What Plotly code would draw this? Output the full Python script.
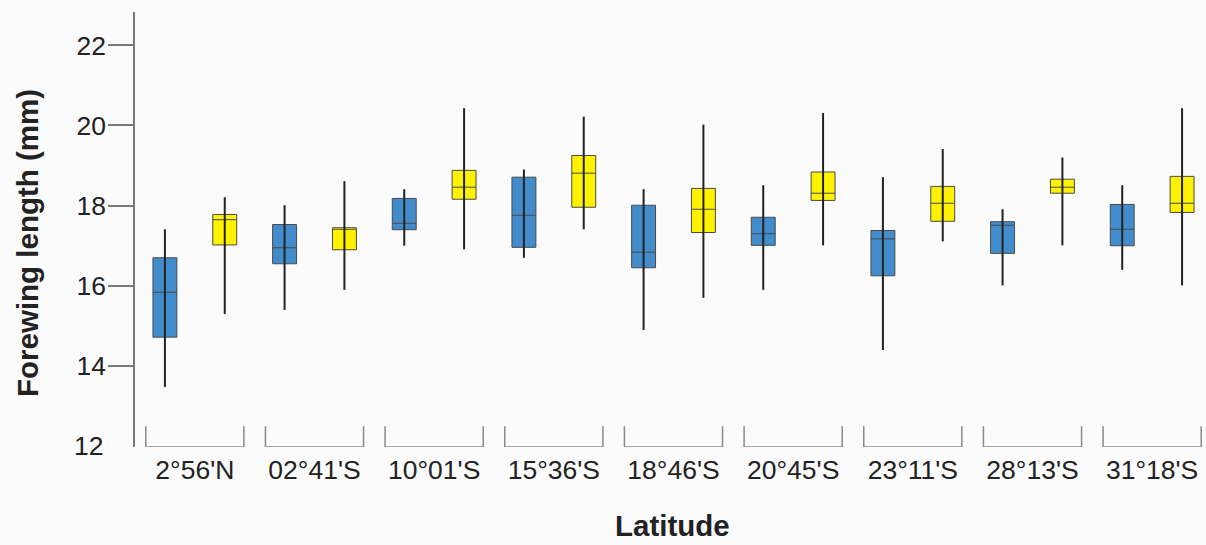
import plotly.graph_objects as go

categories = ["2°56'N", "02°41'S", "10°01'S", "15°36'S", "18°46'S",
              "20°45'S", "23°11'S", "28°13'S", "31°18'S"]

blue_low = [13.48, 15.40, 17.00, 16.70, 14.90, 15.90, 14.40, 16.01, 16.40]
blue_q1 = [14.72, 16.55, 17.40, 16.96, 16.45, 17.01, 16.25, 16.81, 17.00]
blue_med = [15.84, 16.95, 17.56, 17.76, 16.84, 17.30, 17.17, 17.51, 17.41]
blue_q3 = [16.70, 17.53, 18.18, 18.71, 18.01, 17.71, 17.38, 17.60, 18.03]
blue_high = [17.41, 18.01, 18.41, 18.90, 18.41, 18.51, 18.71, 17.91, 18.51]

yellow_low = [15.30, 15.90, 16.91, 17.41, 15.70, 17.01, 17.11, 17.01, 16.01]
yellow_q1 = [17.02, 16.90, 18.16, 17.96, 17.33, 18.13, 17.61, 18.31, 17.83]
yellow_med = [17.65, 17.41, 18.46, 18.81, 17.91, 18.31, 18.06, 18.46, 18.06]
yellow_q3 = [17.78, 17.45, 18.88, 19.25, 18.43, 18.84, 18.48, 18.66, 18.73]
yellow_high = [18.21, 18.61, 20.43, 20.22, 20.02, 20.31, 19.41, 19.20, 20.43]

y_ticks = [12, 14, 16, 18, 20, 22]

FONT = "Liberation Sans, Arial, sans-serif"
TEXT = "#222222"
AXIS = "#7a7a7a"
BLUE = "#438ccb"
YELLOW = "#fff200"
OFFSET = 0.25
BOX_W = 0.2
TICK_SIZE = 26.5
TITLE_SIZE = 29.5

groups = list(range(len(categories)))
fig = go.Figure()

# bracket under each category
bx, by = [], []
for g in groups:
    bx += [g - 0.41, g - 0.41, g + 0.41, g + 0.41, None]
    by += [12.5, 11.98, 11.98, 12.5, None]
fig.add_trace(go.Scatter(x=bx, y=by, mode="lines", line=dict(color="#8a8a8a", width=1.5),
                         hoverinfo="skip", showlegend=False, cliponaxis=False))


def add_series(low, q1, med, q3, high, shift, color):
    pos = [g + shift for g in groups]
    wx, wy = [], []
    for p, lo, hi in zip(pos, low, high):
        wx += [p, p, None]
        wy += [lo, hi, None]
    fig.add_trace(go.Scatter(x=wx, y=wy, mode="lines", line=dict(color="#222222", width=2),
                             hoverinfo="skip", showlegend=False))
    fig.add_trace(go.Box(x=pos, q1=q1, median=med, q3=q3, lowerfence=q1, upperfence=q3,
                         width=BOX_W, whiskerwidth=0, fillcolor=color,
                         line=dict(color="#4a4a4a", width=1), showlegend=False,
                         boxpoints=False))


add_series(blue_low, blue_q1, blue_med, blue_q3, blue_high, -OFFSET, BLUE)
add_series(yellow_low, yellow_q1, yellow_med, yellow_q3, yellow_high, OFFSET, YELLOW)

fig.update_layout(
    width=1206, height=545,
    margin=dict(l=135, r=0, t=12, b=98),
    paper_bgcolor="#fbfbfb", plot_bgcolor="#fbfbfb",
    font=dict(family=FONT, color=TEXT, size=TICK_SIZE),
    showlegend=False,
    boxmode="overlay",
    xaxis=dict(range=[-0.5, 8.45], showline=False, zeroline=False, showgrid=False,
               tickmode="array", tickvals=groups, ticktext=categories,
               ticks="", tickfont=dict(size=TICK_SIZE, color=TEXT), ticklabelstandoff=4),
    yaxis=dict(range=[11.98, 22.83], showline=True, linecolor=AXIS, linewidth=1.5,
               zeroline=False, showgrid=False, tickmode="array",
               tickvals=y_ticks[1:], ticks="outside", ticklen=25, tickcolor=AXIS,
               tickwidth=1.5, tickfont=dict(size=TICK_SIZE, color=TEXT),
               ticklabelstandoff=-3),
    annotations=[
        dict(text=str(y_ticks[0]), x=0, y=y_ticks[0], xref="paper", yref="y",
             xanchor="right", yanchor="middle", xshift=-30, showarrow=False,
             font=dict(size=TICK_SIZE, color=TEXT)),
        dict(text="<b>Forewing length (mm)</b>", x=0, y=0.469, xref="paper", yref="paper",
             xanchor="center", yanchor="middle", xshift=-107, textangle=-90,
             showarrow=False, font=dict(size=TITLE_SIZE, color=TEXT)),
        dict(text="<b>Latitude</b>", x=0.502, y=0, xref="paper", yref="paper",
             xanchor="center", yanchor="middle", yshift=-78, borderpad=0,
             showarrow=False, font=dict(size=TITLE_SIZE, color=TEXT)),
    ],
)

fig.write_html("out.html", config={"displayModeBar": False},
               post_script="document.body.style.margin='0px';")
